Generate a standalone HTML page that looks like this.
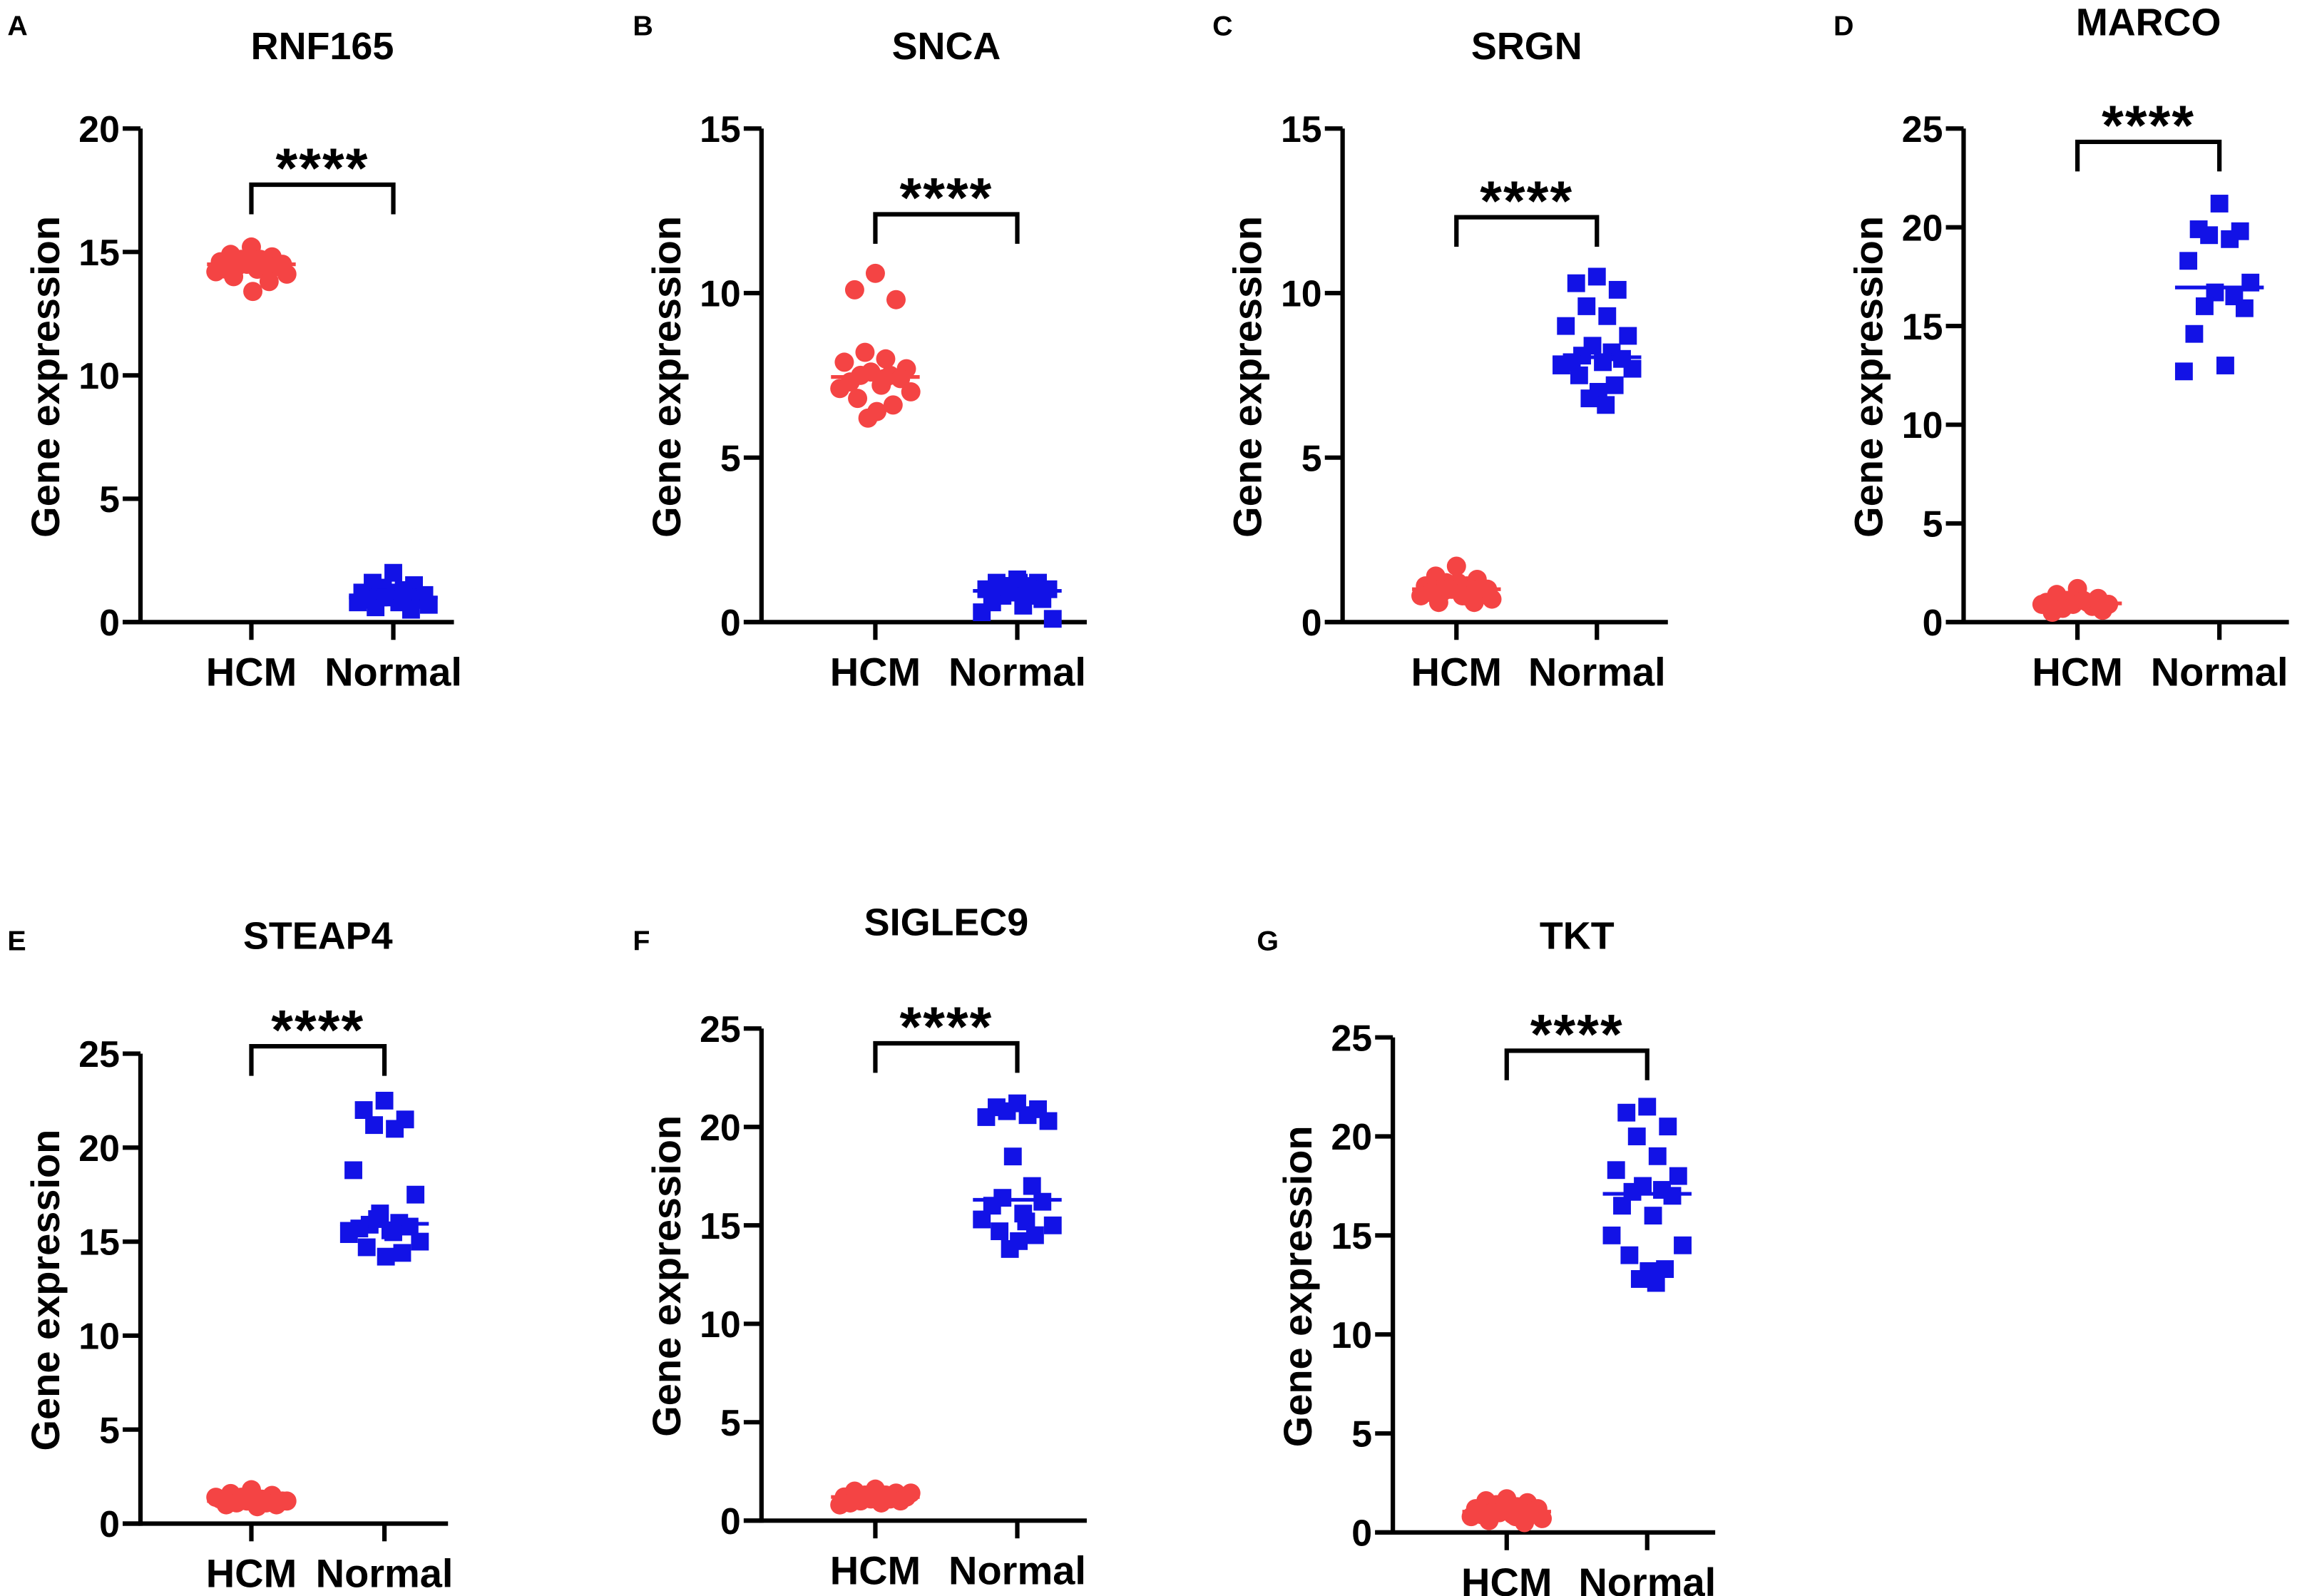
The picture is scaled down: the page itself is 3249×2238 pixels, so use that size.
<!DOCTYPE html>
<html><head><meta charset="utf-8"><style>
html,body{margin:0;padding:0;background:#fff}
svg{display:block}
text{font-family:"Liberation Sans",Arial,sans-serif;font-weight:bold;fill:#000}
</style></head><body>
<svg id="fig" width="3249" height="2238" viewBox="0 0 1567 1080" preserveAspectRatio="none" xmlns="http://www.w3.org/2000/svg"></svg>
<script>
const groups = ["HCM","Normal"];
const titles = ["RNF165","SNCA","SRGN","MARCO","STEAP4","SIGLEC9","TKT"];
const letters = ["A","B","C","D","E","F","G"];
const yMaxes = [20,15,15,25,25,25,25];
const tickSteps = [5,5,5,5,5,5,5];
const hcmA=[15.2,14.9,14.8,14.7,14.6,14.6,14.5,14.5,14.5,14.4,14.4,14.3,14.3,14.2,14.1,14.0,13.8,13.4,14.6,14.7];
const norA=[2.0,1.6,1.5,1.4,1.3,1.2,1.1,1.1,1.0,1.0,0.9,0.9,0.8,0.8,0.7,0.6,0.5,1.2,1.0,0.9];
const hcmB=[10.6,10.1,9.8,8.2,8.0,7.9,7.7,7.6,7.5,7.5,7.4,7.3,7.2,7.1,7.0,6.8,6.6,6.4,6.2,7.4];
const norB=[1.3,1.2,1.2,1.1,1.1,1.0,1.0,0.9,0.9,0.8,0.7,0.6,0.5,0.3,0.1,1.1,1.0,1.2,0.9,0.8];
const hcmC=[1.7,1.4,1.3,1.2,1.1,1.1,1.0,1.0,1.0,0.9,0.9,0.9,0.8,0.8,0.7,0.6,0.6,1.2,1.0,0.8];
const norC=[10.5,10.3,10.1,9.6,9.3,9.0,8.7,8.4,8.2,8.1,8.0,7.9,7.9,7.8,7.7,7.5,7.2,7.0,6.8,6.6];
const hcmD=[1.7,1.4,1.2,1.1,1.0,1.0,0.9,0.9,0.8,0.7,0.6,0.5,1.1,0.9];
const norD=[21.2,19.9,19.8,19.6,19.4,18.3,17.2,16.7,16.5,16.0,15.9,14.6,13.0,12.7];
const hcmE=[1.8,1.6,1.5,1.4,1.3,1.3,1.2,1.2,1.1,1.1,1.0,1.0,0.9,1.4,1.2];
const norE=[22.5,22.0,21.5,21.2,21.0,18.8,17.5,16.5,16.0,15.9,15.8,15.7,15.6,15.4,15.0,14.7,14.4,14.2,16.2,15.5];
const hcmF=[1.6,1.5,1.4,1.3,1.3,1.2,1.2,1.1,1.1,1.0,1.0,0.9,0.9,0.8,1.4,1.2];
const norF=[21.2,21.0,20.9,20.8,20.6,20.5,20.3,18.5,17.0,16.4,16.2,16.0,15.6,15.3,15.0,14.7,14.5,14.2,13.8,15.2];
const hcmG=[1.7,1.6,1.5,1.4,1.3,1.2,1.2,1.1,1.1,1.0,1.0,0.9,0.9,0.8,0.7,0.6,0.5,1.3,1.0,0.8];
const norG=[21.5,21.2,20.5,20.0,19.0,18.3,18.0,17.5,17.3,17.2,17.0,16.5,16.0,15.0,14.5,14.0,13.3,13.2,12.8,12.6];
const hcmData=[hcmA,hcmB,hcmC,hcmD,hcmE,hcmF,hcmG];
const norData=[norA,norB,norC,norD,norE,norF,norG];

// layout (positions only)
const L=[
 {ax:95,hx:170,nx:266,end:307,top:87,bot:421,by:125,ty:31,lx:5,ly:18},
 {ax:515,hx:592,nx:688,end:735,top:87,bot:421,by:145,ty:31,lx:428,ly:18},
 {ax:908,hx:985,nx:1080,end:1128,top:87,bot:421,by:147,ty:31,lx:820,ly:18},
 {ax:1328,hx:1405,nx:1501,end:1548,top:87,bot:421,by:96,ty:15,lx:1240,ly:18},
 {ax:95,hx:170,nx:260,end:303,top:713,bot:1031,by:708,ty:633,lx:5,ly:637},
 {ax:515,hx:592,nx:688,end:735,top:696,bot:1029,by:706,ty:624,lx:428,ly:637},
 {ax:942,hx:1019,nx:1114,end:1160,top:702,bot:1037,by:711,ty:633,lx:850,ly:637}
];
const svg=document.getElementById('fig');
const NS="http://www.w3.org/2000/svg";
function mk(tag,attrs,parent){const e=document.createElementNS(NS,tag);for(const k in attrs)e.setAttribute(k,attrs[k]);(parent||svg).appendChild(e);return e;}
function median(a){const s=[...a].sort((x,y)=>x-y);const m=s.length>>1;return s.length%2?s[m]:(s[m-1]+s[m])/2;}
const jit=[0,-14,14,-7,7,-21,21,-3,10,-10,17,-17,4,-24,24,-12,12,1,-5,6];

for(let p=0;p<7;p++){
 const c=L[p];const ax=c.ax;const axEnd=c.end;
 const y=v=>c.bot-(v/yMaxes[p])*(c.bot-c.top);
 const g=mk('g',{});
 
 
 let t=mk('text',{x:c.lx,y:c.ly+6,'font-size':19},g);t.textContent=letters[p];
 
 t=mk('text',{x:(c.hx+c.nx)/2,y:c.ty+9,'font-size':26,'text-anchor':'middle'},g);t.textContent=titles[p];
 
 t=mk('text',{x:0,y:0,'font-size':27,'text-anchor':'middle',transform:`translate(${ax-55},${(c.top+c.bot)/2+1}) rotate(-90)`},g);t.textContent="Gene expression";
 
 let ln=mk('line',{x1:ax,y1:c.top,x2:ax,y2:c.bot+1.5,stroke:'#000','stroke-width':3},g);
 
 ln=mk('line',{x1:ax-12,y1:c.bot,x2:axEnd,y2:c.bot,stroke:'#000','stroke-width':3},g);
 
 for(let v=0;v<=yMaxes[p];v+=tickSteps[p]){
  const tk=mk('line',{x1:ax-12,y1:y(v),x2:ax,y2:y(v),stroke:'#000','stroke-width':3},g);
  
  const tl=mk('text',{x:ax-14,y:y(v)+9,'font-size':25,'text-anchor':'end'},g);tl.textContent=v;
  
 }
 [c.hx,c.nx].forEach((gx,i)=>{
  const tk=mk('line',{x1:gx,y1:c.bot,x2:gx,y2:c.bot+12,stroke:'#000','stroke-width':3},g);
  
  const tl=mk('text',{x:gx,y:c.bot+43,'font-size':27,'text-anchor':'middle'},g);tl.textContent=groups[i];
  
 });
 const br=mk('path',{d:`M${c.hx},${c.by+20} V${c.by} H${c.nx} V${c.by+20}`,fill:'none',stroke:'#000','stroke-width':3},g);
 
 t=mk('text',{x:(c.hx+c.nx)/2,y:c.by+2,'font-size':38,'text-anchor':'middle','letter-spacing':'1'},g);t.textContent="****";
 
 hcmData[p].forEach((v,i)=>{
  const e=mk('circle',{cx:c.hx+jit[i%jit.length],cy:y(v),r:6.5,fill:'#f44444'},g);
  
 });
 norData[p].forEach((v,i)=>{
  const e=mk('rect',{x:c.nx+jit[i%jit.length]-6,y:y(v)-6,width:12,height:12,fill:'#1212e6'},g);
  
 });
 let m=mk('line',{x1:c.hx-30,x2:c.hx+30,y1:y(median(hcmData[p])),y2:y(median(hcmData[p])),stroke:'#f44444','stroke-width':2.5},g);
 
 m=mk('line',{x1:c.nx-30,x2:c.nx+30,y1:y(median(norData[p])),y2:y(median(norData[p])),stroke:'#1212e6','stroke-width':2.5},g);
 
}
</script>
</body></html>
